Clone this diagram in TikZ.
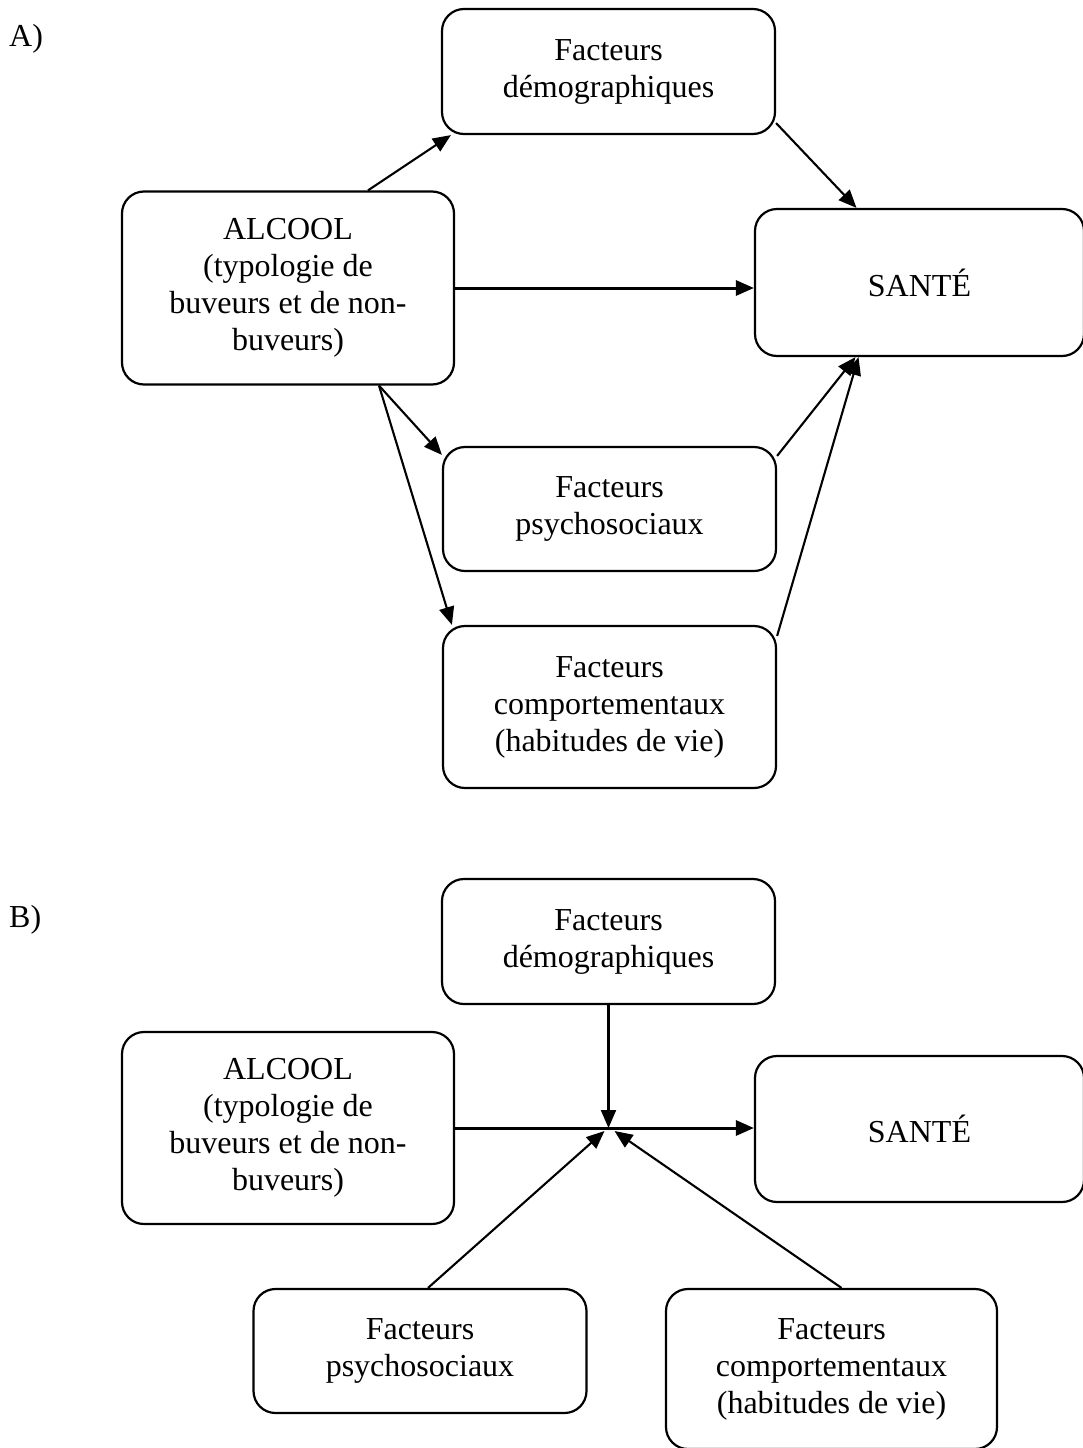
\documentclass[tikz,border=0pt]{standalone}
\usepackage{fontspec}
\setmainfont{Liberation Serif}
\usetikzlibrary{arrows.meta}

\begin{document}
\begin{tikzpicture}[x=1pt, y=-1pt,
	box/.style={draw, line width=2.2pt, rounded corners=22pt, align=center, inner sep=0pt,
		font=\fontsize{32}{37}\selectfont},
	tag/.style={anchor=west, inner sep=0pt, font=\fontsize{32}{37}\selectfont},
	link/.style={line width=2.1pt, -{Triangle[length=18pt, width=15pt]}},
	mainlink/.style={link, line width=3pt}]
	\useasboundingbox (0,0) rectangle (1083,1448);
	% panel A
	\node[tag] (tagA) at (9,39) {A)};
	\node[box, minimum width=333pt, minimum height=125pt] (demoA) at (608.5,71.5) {Facteurs\\démographiques};
	\node[box, minimum width=332pt, minimum height=193pt] (alcA) at (288,288) {ALCOOL\\(typologie de\\buveurs et de non-\\buveurs)};
	\node[box, minimum width=329pt, minimum height=147pt] (santeA) at (919.5,282.5) {SANTÉ};
	\node[box, minimum width=333pt, minimum height=124pt] (psyA) at (609.5,509) {Facteurs\\psychosociaux};
	\node[box, minimum width=333pt, minimum height=162pt] (compA) at (609.5,707) {Facteurs\\comportementaux\\(habitudes de vie)};
	\coordinate (alcAtop) at ([xshift=80pt]alcA.north);
	\coordinate (alcAbot) at ([xshift=91pt]alcA.south);
	\draw[link] (alcAtop) -- ([xshift=10pt]demoA.south west);
	\draw[link] ([yshift=12pt]demoA.south east) -- ([xshift=-63pt]santeA.north);
	\draw[mainlink] (alcA.east) -- (alcA.east -| santeA.west);
	\draw[link] (alcAbot) -- ([yshift=-9pt]psyA.north west);
	\draw[link] (alcAbot) -- ([xshift=10pt]compA.north west);
	\draw[link] ([yshift=-10pt]psyA.north east) -- ([xshift=-64pt]santeA.south);
	\draw[link] ([yshift=-11pt]compA.north east) -- ([xshift=-61pt]santeA.south);
	% panel B
	\node[tag] (tagB) at (9,920) {B)};
	\node[box, minimum width=333pt, minimum height=125pt] (demoB) at (608.5,941.5) {Facteurs\\démographiques};
	\node[box, minimum width=332pt, minimum height=192pt] (alcB) at (288,1128) {ALCOOL\\(typologie de\\buveurs et de non-\\buveurs)};
	\node[box, minimum width=329pt, minimum height=146pt] (santeB) at (919.5,1129) {SANTÉ};
	\node[box, minimum width=333pt, minimum height=124pt] (psyB) at (420,1351) {Facteurs\\psychosociaux};
	\node[box, minimum width=331pt, minimum height=160pt] (compB) at (831.5,1369) {Facteurs\\comportementaux\\(habitudes de vie)};
	\coordinate (hub) at (demoB.south |- alcB.east);
	\draw[mainlink] (alcB.east) -- (alcB.east -| santeB.west);
	\draw[link] (demoB.south) -- (hub);
	\draw[link] ([xshift=8pt]psyB.north) -- ([xshift=-4pt,yshift=-3pt]hub);
	\draw[link] ([xshift=10pt]compB.north) -- ([xshift=6pt,yshift=-3pt]hub);
\end{tikzpicture}
\end{document}
